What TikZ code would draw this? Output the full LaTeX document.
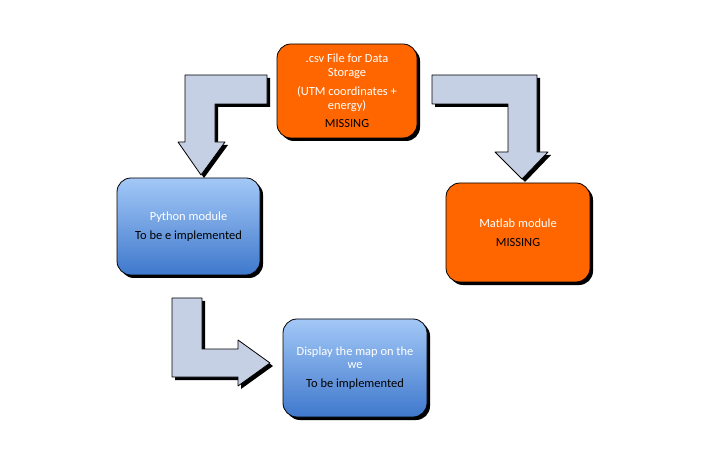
\documentclass[tikz,border=0pt]{standalone}
\usepackage{fontspec}
\setmainfont{Carlito}
\usetikzlibrary{shadows}
\definecolor{boxorange}{HTML}{FF6600}
\definecolor{bluetop}{HTML}{A3C8F7}
\definecolor{bluebot}{HTML}{3F78CC}
\definecolor{arrowfill}{HTML}{C6D0E4}
\tikzset{
  boxbase/.style={draw=black, line width=0.8bp, rounded corners=14bp, align=center,
    font=\fontsize{12.5}{13.5}\selectfont, inner sep=0pt,
    drop shadow={shadow xshift=3bp, shadow yshift=-3bp, fill=black, opacity=1}},
  orangebox/.style={boxbase, fill=boxorange},
  bluebox/.style={boxbase, top color=bluetop, bottom color=bluebot},
  blockarrow/.style={draw=black, line width=0.8bp, fill=arrowfill, line join=round},
  arrowshadow/.style={fill=black, line join=round}
}
\begin{document}
\begin{tikzpicture}[x=1bp,y=-1bp]
\useasboundingbox (0,0) rectangle (704,450);
% block arrows: shadows first
\begin{scope}[shift={(3,3)}]
\fill[arrowshadow] (267,75) -- (185,75) -- (185,142) -- (178,142) -- (201,175) -- (225,142) -- (215,142) -- (215,104) -- (267,104) -- cycle;
\fill[arrowshadow] (432,75) -- (537,75) -- (537,152) -- (548,152) -- (522,179) -- (495,152) -- (508,152) -- (508,104) -- (432,104) -- cycle;
\fill[arrowshadow] (172,298) -- (202,298) -- (202,349) -- (238,349) -- (238,340) -- (270,363) -- (238,386) -- (238,377) -- (172,377) -- cycle;
\end{scope}
\draw[blockarrow] (267,75) -- (185,75) -- (185,142) -- (178,142) -- (201,175) -- (225,142) -- (215,142) -- (215,104) -- (267,104) -- cycle;
\draw[blockarrow] (432,75) -- (537,75) -- (537,152) -- (548,152) -- (522,179) -- (495,152) -- (508,152) -- (508,104) -- (432,104) -- cycle;
\draw[blockarrow] (172,298) -- (202,298) -- (202,349) -- (238,349) -- (238,340) -- (270,363) -- (238,386) -- (238,377) -- (172,377) -- cycle;
% boxes
\node[orangebox, minimum width=140bp, minimum height=94bp] (csv) at (347,91)
  {\textcolor{white}{.csv File for Data}\\\textcolor{white}{Storage}\\[6bp]
   \textcolor{white}{(UTM coordinates +}\\\textcolor{white}{energy)}\\[5bp] MISSING};
\node[bluebox, minimum width=143bp, minimum height=97bp] (py) at (188.5,226.5)
  {\textcolor{white}{Python module}\\[5bp] To be e implemented};
\node[orangebox, minimum width=144bp, minimum height=99bp] (ml) at (518,232.5)
  {\textcolor{white}{Matlab module}\\[5bp] MISSING};
\node[bluebox, minimum width=144bp, minimum height=98bp] (disp) at (355,368)
  {\textcolor{white}{Display the map on the}\\\textcolor{white}{we}\\[5bp] To be implemented};
\end{tikzpicture}
\end{document}
